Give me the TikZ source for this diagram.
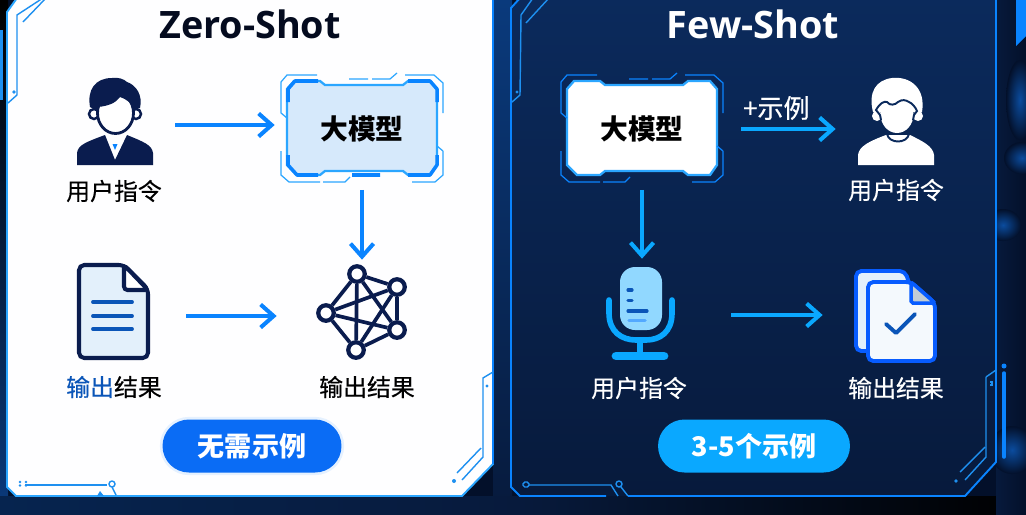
\documentclass[tikz,border=0pt]{standalone}
\usepackage{fontspec}
\setmainfont{Noto Sans CJK SC}
\newfontfamily\titlefont{Open Sans}
\newfontfamily\labelfont{Noto Sans CJK SC}[FakeBold=0.35]
\usetikzlibrary{arrows.meta}
\definecolor{bgdark}{HTML}{03102A}
\definecolor{panelline}{HTML}{2BA6FF}
\definecolor{navyicon}{HTML}{0A1C4E}
\definecolor{flowblue}{HTML}{0A84FF}
\definecolor{flowsky}{HTML}{0AA8FF}
\definecolor{lightfill}{HTML}{D6E9FB}
\definecolor{pagefill}{HTML}{E3F0FB}
\definecolor{circuit}{HTML}{1E90F0}
\definecolor{paneltop}{HTML}{0B2A5C}
\definecolor{panelbot}{HTML}{071A3C}
\definecolor{stripblue}{HTML}{0A3A7C}
\definecolor{stripdark}{HTML}{06244F}
\definecolor{glowblue}{HTML}{0B4C9E}
\definecolor{deepblue}{HTML}{0A55B8}
\definecolor{pillblue}{HTML}{0A6CF5}
\begin{document}
\begin{tikzpicture}[
    x=0.02cm, y=-0.02cm,
    title/.style={font=\titlefont\bfseries\fontsize{21.5}{26}\selectfont, inner sep=0},
    label/.style={font=\labelfont\fontsize{13.6}{16}\selectfont, inner sep=0},
    modelbox/.style={font=\bfseries\fontsize{15.8}{18}\selectfont, text=black, minimum width=3cm, minimum height=1.94cm, inner sep=0},
    icon/.style={minimum width=#1*0.02cm, minimum height=1.8cm, inner sep=0},
    pill/.style={font=\bfseries\fontsize{15.4}{18}\selectfont, text=white, minimum height=1.06cm, inner sep=0, rounded corners=0.53cm},
    arrowz/.style={draw=flowblue, line width=2.3pt, -{Straight Barb[length=2.6mm, width=4.6mm]}},
    arrowf/.style={draw=flowsky, line width=2.3pt, -{Straight Barb[length=2.6mm, width=4.6mm]}},
    trace/.style={draw=circuit, line width=0.8pt},
    vertex/.style={circle, draw=navyicon, fill=white, line width=2.4pt, minimum size=0.31cm, inner sep=0}
]
    \useasboundingbox (0,0) rectangle (1026,514);
    \clip (0,0) rectangle (1026,514);

    % Backdrop
    \fill[bgdark] (0,0) rectangle (1026,514);
    \fill[top color=black, bottom color=stripblue] (0,0) rectangle (8,514);
    \fill[circuit] (0,30) rectangle (2.5,100);
    \fill[top color=stripblue, bottom color=panelbot] (493,0) rectangle (512,514);
    \fill[left color=stripdark, right color=panelbot] (0,496) rectangle (520,514);
    \fill[left color=panelbot, right color=black] (520,496) rectangle (1026,514);
    \fill[left color=panelbot, right color=bgdark] (996,0) rectangle (1026,514);
    \foreach \gx/\gy/\grx/\gry in {1022/158/18/16, 1003/225/18/16, 1012/450/22/24, 1020/100/14/40} {
        \shade[inner color=glowblue, outer color=bgdark] (\gx,\gy) ellipse[x radius=\grx, y radius=\gry];
    }
    \fill[flowblue] (1016,0) -- (1026,0) -- (1026,36) -- (1016,46) -- cycle;

    % Panels
    \fill[fill=white!97!lightfill, draw=panelline, line width=1.1pt]
        (17,-2) -- (7,12) -- (7,487) -- (16,496) -- (462,496) -- (493,464) -- (493,-2) -- cycle;
    \path[top color=paneltop, bottom color=panelbot]
        (520,-2) -- (511,8) -- (511,487) -- (520,496) -- (965,496) -- (996,462) -- (996,-2) -- cycle;
    \draw[draw=flowblue, line width=1.1pt]
        (520,-2) -- (511,8) -- (511,487) -- (520,496) -- (606,496)
        (628,496) -- (965,496) -- (996,462) -- (996,-2);
    \draw[draw=flowblue, line width=1.1pt] (493,-2) -- (493,464);

    % Corner traces, left panel
    \draw[trace] (43,-2) -- (17,15) -- (17,95) -- (8,103);
    \draw[trace] (46,-2) -- (23,22);
    \fill[circuit] (14,92) circle[radius=1.8];
    \draw[trace] (493,372) -- (483,378) -- (483,457) -- (462,480);
    \draw[trace] (481,448) -- (457,473);
    \fill[circuit] (454,481) circle[radius=2];
    \fill[circuit] (487,386) circle[radius=1.6];
    \foreach \dx/\dy in {20/482, 20/485.5, 26/482, 26/485.5} {
        \fill[circuit] (\dx,\dy) circle[radius=1.3];
    }
    \draw[trace] (25,485) -- (107,485);
    \draw[trace] (112,484) circle[radius=3] (112,487) -- (116,495);
    \fill[circuit] (97,496) -- (100,491) -- (104,496) -- cycle;

    % Corner traces, right panel
    \draw[trace] (533,-2) -- (521,15) -- (520,95) -- (512,102);
    \draw[trace] (549,-2) -- (526,23);
    \fill[circuit] (517,92) circle[radius=1.6];
    \draw[trace] (986,377) -- (996,370) (986,377) -- (986,457) -- (965,480);
    \draw[trace] (985,447) -- (960,472);
    \draw[trace] (990,382) -- (992,382) -- (992,385) -- (990,385);
    \fill[circuit] (956,481) circle[radius=1.8];
    \draw[flowblue, line width=2pt, line cap=round] (1004,373) -- (1004,457);
    \fill[flowblue] (1004,366) circle[radius=2.5];
    \draw[trace, rounded corners=1pt] (523,482) rectangle (529,487);
    \draw[trace] (529,485) -- (611,485) -- (618,496);
    \draw[trace] (619,484) circle[radius=3] (621,487) -- (628,496);

    % Model frames
    \foreach \cx/\lc/\fc/\ec in {362/panelline/lightfill/panelline, 642/flowblue/white/panelline} {
        \fill[fill=\fc, draw=\ec, line width=1.3pt]
            (\cx-68,81) -- (\cx-42,81) -- (\cx-37,85) -- (\cx+41,85) -- (\cx+46,81) -- (\cx+68,81)
            -- (\cx+75,89) -- (\cx+75,165) -- (\cx+68,175) -- (\cx+46,175) -- (\cx+41,171)
            -- (\cx-37,171) -- (\cx-42,175) -- (\cx-65,175) -- (\cx-75,165) -- (\cx-75,89) -- cycle;
        \draw[draw=\lc, line width=0.7pt]
            (\cx-81,113) -- (\cx-81,82) -- (\cx-75,75) -- (\cx-45,75)
            (\cx-13,79) -- (\cx+6,79) (\cx+10,79) -- (\cx+28,79) -- (\cx+35,73)
            (\cx+43,75) -- (\cx+72,75) -- (\cx+81,83) -- (\cx+81,113)
            (\cx-81,151) -- (\cx-81,175) -- (\cx-73,182) -- (\cx-42,182)
            (\cx-39,182) -- (\cx-17,182) -- (\cx-12,177)
            (\cx+50,182) -- (\cx+73,182) -- (\cx+81,175) -- (\cx+81,151)
            (\cx-81,113) -- (\cx-75,118) (\cx+81,151) -- (\cx+75,146);
    }
    % Heavy corners of the left frame
    \draw[flowblue, line width=2pt, line join=round]
        (288,102) -- (288,89) -- (295,81) -- (318,81)
        (408,81) -- (430,81) -- (437,89) -- (437,102)
        (288,155) -- (288,165) -- (297,175) -- (318,175)
        (408,175) -- (430,175) -- (437,165) -- (437,155)
        (352,175) -- (380,175);

    % Zero-Shot
    \node[title, text=navyicon!40!black] (titlez) at (250,24) {Zero-Shot};
    \node[modelbox] (modelz) at (362,129) {大模型};
    \node[icon=76] (userz) at (115,125) {};
    \node[label] (userzlabel) at (114,191) {用户指令};
    \node[icon=72] (docz) at (113,316) {};
    \node[label] (doczlabel) at (114,387) {\textcolor{deepblue}{输出}结果};
    \node[icon=80] (netz) at (358,316) {};
    \node[label] (netzlabel) at (367,387) {输出结果};
    \node[pill, minimum width=3.58cm, fill=pillblue,
        preaction={draw=flowblue, line width=3pt, opacity=0.1}] (pillz) at (252,446) {无需示例};

    % User icon
    \fill[navyicon] (77,165) -- (77,153) .. controls (78,145) and (86,142) .. (105,135) -- (115,160)
        -- (127,135) .. controls (144,142) and (152,145) .. (153,153) -- (153,165) -- cycle;
    \fill[flowblue] (112.5,144) -- (117.5,144) -- (115,150) -- cycle;
    \draw[navyicon, fill=white, line width=1.4pt] (94,114) circle[radius=5] (136,114) circle[radius=5];
    \draw[navyicon, fill=white, line width=1.6pt] (115.5,113) ellipse[x radius=18, y radius=20.5];
    \fill[navyicon] (90,107) .. controls (87,90) and (95,78) .. (112,78)
        .. controls (118,77) and (124,79) .. (127,82)
        .. controls (136,85) and (143,95) .. (140,108) -- (134,110)
        .. controls (133,104) and (128,100) .. (120,97)
        .. controls (116,103) and (108,106) .. (98,107) -- (96,110) -- cycle;

    % Document icon
    \draw[navyicon, fill=pagefill, line width=2.3pt, rounded corners=3pt]
        (124,265) -- (79,265) -- (79,358) -- (148,358) -- (148,289) -- cycle;
    \draw[navyicon, fill=white, line width=2.3pt, rounded corners=2pt] (124,265) -- (124,290) -- (148,290) -- cycle;
    \foreach \ly in {302, 316, 329} {
        \draw[deepblue, line width=2.2pt, line cap=round] (93,\ly) -- (132,\ly);
    }

    % Network icon
    \node[vertex] (n1) at (357,274) {};
    \node[vertex] (n2) at (397,287) {};
    \node[vertex] (n3) at (326,313) {};
    \node[vertex] (n4) at (397,330) {};
    \node[vertex] (n5) at (356,350) {};
    \foreach \a/\b in {n1/n2, n1/n3, n1/n4, n1/n5, n2/n3, n2/n4, n2/n5, n3/n4, n3/n5, n4/n5} {
        \draw[navyicon, line width=2.1pt] (\a) -- (\b);
    }

    % Zero-Shot flow
    \draw[arrowz, shorten <=0.44cm, shorten >=0.24cm] (userz.east) -- (userz.east -| modelz.west);
    \draw[arrowz, shorten <=0.24cm, shorten >=0.22cm] (modelz.south) -- (modelz.south |- netz.north);
    \draw[arrowz, shorten <=0.74cm, shorten >=0.82cm] (docz.east) -- (netz.west);

    % Few-Shot
    \node[title, text=white] (titlef) at (753,24) {Few-Shot};
    \node[modelbox] (modelf) at (642,129) {大模型};
    \node[icon=76] (userf) at (896,125) {};
    \node[label, text=white] (userflabel) at (896,190) {用户指令};
    \node[icon=64] (micf) at (641,315) {};
    \node[label, text=white] (micflabel) at (639,388) {用户指令};
    \node[icon=82] (docf) at (896,315) {};
    \node[label, text=white] (docflabel) at (896,388) {输出结果};
    \node[pill, minimum width=3.84cm, fill=flowsky] (pillf) at (754,446) {3-5个示例};

    % Short hair user icon
    \fill[white] (858,165) -- (858,155) .. controls (859,146) and (870,141) .. (886,135)
        -- (910,135) .. controls (922,141) and (933,146) .. (934,155) -- (934,165) -- cycle;
    \draw[paneltop, line width=1.1pt] (887,134) .. controls (889,144) and (907,144) .. (909,134);
    \fill[white] (877,116) circle[radius=5] (918,116) circle[radius=5];
    \fill[white] (897,114) ellipse[x radius=16.5, y radius=19];
    \fill[white] (873,112) .. controls (868,92) and (876,80) .. (892,78)
        .. controls (910,76) and (926,88) .. (922,112) -- cycle;
    \draw[paneltop, line width=1.1pt] (881,120) -- (880,115) -- (876,110) .. controls (880,103) and (884,101) .. (887,102)
        .. controls (890,106) and (895,105) .. (898,102)
        .. controls (902,99) and (906,100) .. (909,102)
        .. controls (912,103) and (916,108) .. (917,111) -- (914,115) -- (913,120);

    % Microphone icon
    \draw[flowsky, line width=3.2pt, line cap=round]
        (609,300) -- (609,313) .. controls (609,332) and (622,340) .. (636,340) -- (646,340)
        .. controls (660,340) and (672,332) .. (672,313) -- (672,300)
        (640,340) -- (640,356);
    \draw[flowsky, line width=5pt, line cap=round] (616,356) -- (664,356);
    \fill[flowsky!45!white, rounded corners=0.3cm] (620,267) rectangle (662,330);
    \draw[deepblue, line width=1.8pt, line cap=round]
        (628,290) -- (632,290) (628,300.5) -- (632,300.5) (628,311) -- (647,311);
    \draw[flowblue!70!white, line width=2pt, line cap=round] (629,320.5) -- (645,320.5);

    % Pages icon
    \draw[flowblue!70!blue, fill=pagefill, line width=2.2pt, rounded corners=3pt]
        (905,271) -- (856,271) -- (856,351) -- (880,351) -- (915,300) -- cycle;
    \draw[flowblue!70!blue, fill=white!60!pagefill, line width=2.2pt, rounded corners=3pt]
        (911,282) -- (868,282) -- (868,361) -- (935,361) -- (935,303) -- cycle;
    \draw[flowblue!70!blue, fill=pagefill!85!black, line width=2pt, rounded corners=1pt]
        (911,282) -- (911,303) -- (935,303) -- cycle;
    \draw[deepblue, line width=2.2pt, line cap=round, line join=round] (886,324) -- (896,333) -- (915,314);

    % Few-Shot flow
    \draw[arrowf, shorten <=0.48cm, shorten >=0.44cm] (modelf.east) -- node[above, label, font=\labelfont\fontsize{14.8}{17}\selectfont, text=white, pos=0.42, yshift=0.14cm] (plusf) {+示例} (modelf.east -| userf.west);
    \draw[arrowf, shorten <=0.24cm, shorten >=0.22cm] (modelf.south) -- (modelf.south |- micf.north);
    \draw[arrowf, shorten <=1.16cm, shorten >=0.64cm] (micf.east) -- (micf.east -| docf.west);
\end{tikzpicture}
\end{document}
